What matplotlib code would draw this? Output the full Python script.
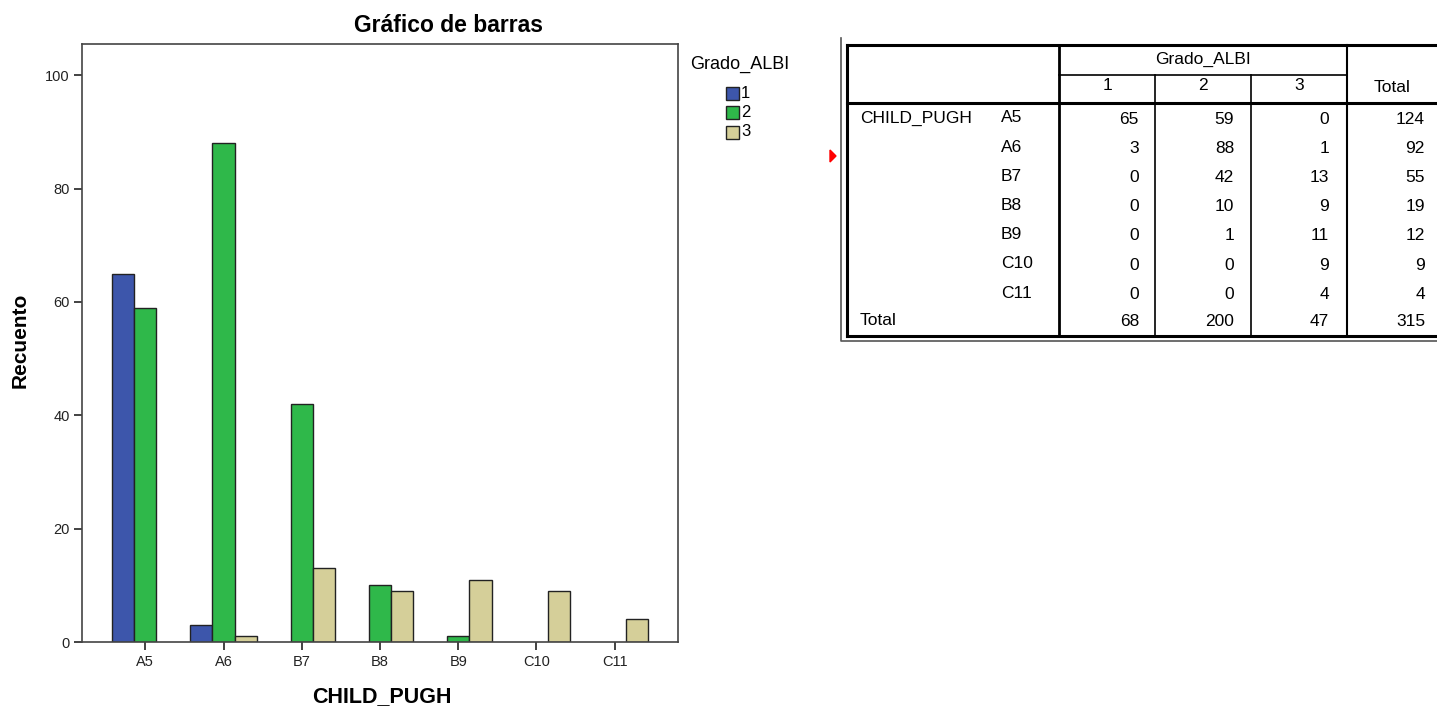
import numpy as np
import matplotlib
matplotlib.use('Agg')
import matplotlib.pyplot as plt
from matplotlib.patches import Rectangle, Polygon

plt.rcParams['font.family'] = ['Liberation Sans', 'DejaVu Sans']

categorias = ['A5', 'A6', 'B7', 'B8', 'B9', 'C10', 'C11']
grados = ['1', '2', '3']
grado1 = [65, 3, 0, 0, 0, 0, 0]
grado2 = [59, 88, 42, 10, 1, 0, 0]
grado3 = [0, 1, 13, 9, 11, 9, 4]
colores = ['#3d56ab', '#2fb84a', '#d5cf99']

W, H = 1437, 708
fig = plt.figure(figsize=(W / 100, H / 100), dpi=100)

# --- grafico de barras ---
ax = fig.add_axes([82 / W, 1 - 642 / H, (678 - 82) / W, (642 - 44) / H])
x = np.arange(len(categorias))
w = 0.285
series = [grado1, grado2, grado3]
for i, (vals, c) in enumerate(zip(series, colores)):
    vals = np.array(vals)
    m = vals > 0
    ax.bar(x[m] + (i - 1) * w, vals[m], width=w, color=c,
           edgecolor='#222222', linewidth=1.0, zorder=2)

ax.set_xlim(-0.81, len(categorias) - 1 + 0.81)
ax.set_ylim(0, 105.5)
ax.set_yticks([0, 20, 40, 60, 80, 100])
ax.set_xticks(x)
ax.set_xticklabels(categorias)
ax.tick_params(axis='both', direction='out', length=6, width=1.2,
               colors='#222222', labelsize=10.5, pad=3)
for s in ax.spines.values():
    s.set_color('#444444')
    s.set_linewidth(1.2)
ax.set_ylabel('Recuento', fontsize=15, fontweight='bold', va='center')
ax.yaxis.set_label_coords(-0.104, 0.505)
ax.set_xlabel('CHILD_PUGH', fontsize=15.5, fontweight='bold', va='center')
ax.xaxis.set_label_coords(0.503, -0.092)
fig.text(448 / W, 1 - 26 / H, 'Gráfico de barras', fontsize=16.5,
         fontweight='bold', ha='center', va='center')

# leyenda
fig.text(690 / W, 1 - 64 / H, 'Grado_ALBI', fontsize=13, va='center')
ov = fig.add_axes([0, 0, 1, 1], facecolor='none')
ov.set_xlim(0, W)
ov.set_ylim(H, 0)
ov.axis('off')
for i, (g, c) in enumerate(zip(grados, colores)):
    yy = 93 + i * 19.5
    ov.add_patch(Rectangle((726, yy - 6.5), 13, 13, facecolor=c,
                           edgecolor='#222222', linewidth=1.0))
    ov.text(741, yy, g, fontsize=12, va='center')

# --- tabla ---
fs = 12.5
ov.plot([841, 841, W], [38, 341, 341], color='#555555', lw=1.2)
ov.plot([847, W], [45, 45], color='black', lw=2.2)
ov.plot([847, W], [336, 336], color='black', lw=2.2)
ov.plot([847, 847], [45, 336], color='black', lw=2.2)
ov.plot([847, W], [103, 103], color='black', lw=2.2)
ov.plot([1059, 1059], [45, 336], color='black', lw=2.0)
ov.plot([1347, 1347], [45, 336], color='black', lw=1.5)
ov.plot([1059, 1347], [75, 75], color='black', lw=1.2)
ov.plot([1155, 1155], [75, 336], color='black', lw=1.2)
ov.plot([1251, 1251], [75, 336], color='black', lw=1.2)

ov.text(1203, 59, 'Grado_ALBI', fontsize=fs, ha='center', va='center')
for j, g in enumerate(grados):
    ov.text(1107 + j * 96, 86, g, fontsize=fs, ha='center', va='center')
ov.text(1392, 88, 'Total', fontsize=fs, ha='center', va='center')

ov.text(860, 118, 'CHILD_PUGH', fontsize=fs, va='center')
col_right = [1139, 1234, 1329, 1425]
for r, cat in enumerate(categorias):
    yy = 118 + r * 29.2
    ov.text(1001, yy, cat, fontsize=fs, va='center')
    fila = [grado1[r], grado2[r], grado3[r]]
    fila.append(sum(fila))
    for v, xr in zip(fila, col_right):
        ov.text(xr, yy + 1, str(v), fontsize=fs, ha='right', va='center')
yt = 118 + 7 * 29.2 - 2
ov.text(860, yt, 'Total', fontsize=fs, va='center')
tot = [sum(grado1), sum(grado2), sum(grado3)]
tot.append(sum(tot))
for v, xr in zip(tot, col_right):
    ov.text(xr, yt + 1, str(v), fontsize=fs, ha='right', va='center')

ov.add_patch(Polygon([[830, 150], [830, 162], [836, 156]], closed=True,
                     color='red'))

fig.savefig('out.png', dpi=100)
